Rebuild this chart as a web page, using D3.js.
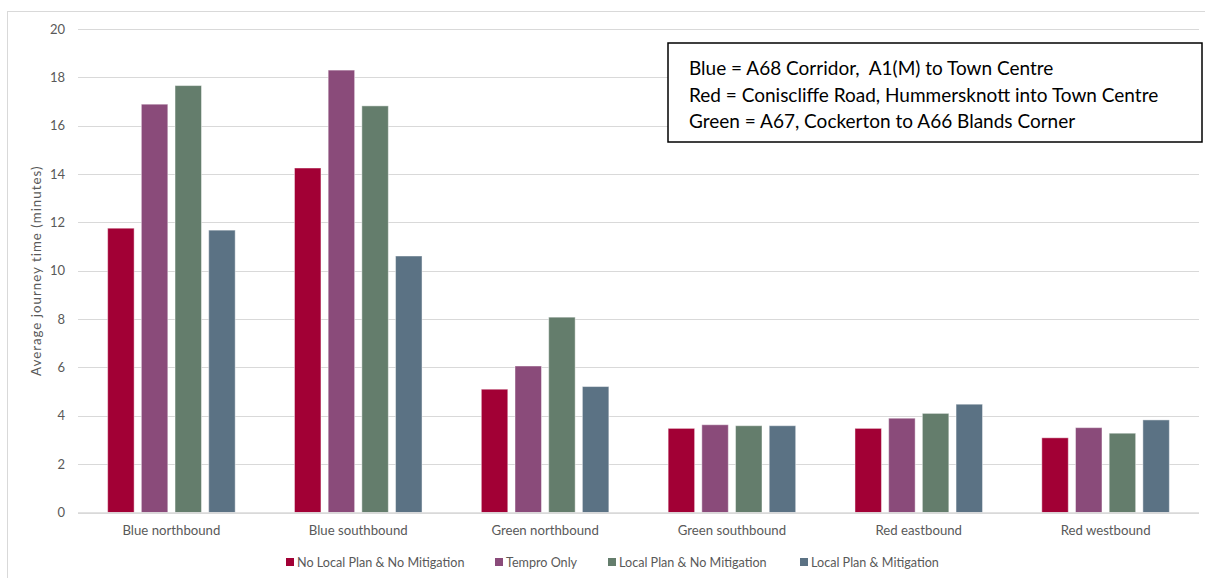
<!DOCTYPE html>
<html>
<head>
<meta charset="utf-8">
<script src="https://cdn.jsdelivr.net/npm/d3@7/dist/d3.min.js"></script>
<style>
  html, body { margin: 0; padding: 0; background: #fff; }
  svg { display: block; }
  text { font-family: Lato, "Open Sans", sans-serif; }
</style>
</head>
<body>
<svg id="chart" width="1205" height="578"></svg>
<script>
// Average journey time per route direction and scenario
const categories = ["Blue northbound", "Blue southbound", "Green northbound", "Green southbound", "Red eastbound", "Red westbound"];
const seriesNames = ["No Local Plan & No Mitigation", "Tempro Only", "Local Plan & No Mitigation", "Local Plan & Mitigation"];
const noPlanNoMitigation = [11.76, 14.25, 5.10, 3.48, 3.48, 3.09];
const temproOnly         = [16.89, 18.30, 6.06, 3.63, 3.90, 3.51];
const planNoMitigation   = [17.66, 16.82, 8.08, 3.59, 4.10, 3.28];
const planMitigation     = [11.68, 10.61, 5.21, 3.59, 4.48, 3.83];
const seriesColors = ["#A20035", "#8A4B7A", "#647D6C", "#5B7284"];
const yTicks = [0, 2, 4, 6, 8, 10, 12, 14, 16, 18, 20];
const noteLines = [
  "Blue = A68 Corridor,  A1(M) to Town Centre",
  "Red = Coniscliffe Road, Hummersknott into Town Centre",
  "Green = A67, Cockerton to A66 Blands Corner"
];

const seriesValues = [noPlanNoMitigation, temproOnly, planNoMitigation, planMitigation];
const rows = categories.map((c, i) => ({
  category: c,
  values: seriesNames.map((s, j) => ({ series: s, index: j, value: seriesValues[j][i] }))
}));

const svg = d3.select("#chart");
const plotLeft = 78, plotRight = 1199, plotTop = 29, plotBottom = 512.5;

// chart area frame
svg.append("rect")
  .attr("x", 7.5).attr("y", 11.5)
  .attr("width", 1220).attr("height", 620)
  .attr("fill", "none").attr("stroke", "#D9D9D9").attr("stroke-width", 1);

const x0 = d3.scaleBand().domain(categories).range([plotLeft, plotRight]);
const x1 = d3.scaleBand().domain(seriesNames)
  .range([0, x0.bandwidth()])
  .paddingInner(0.214).paddingOuter(0.88);
const y = d3.scaleLinear().domain([0, 20]).range([plotBottom, plotTop]);

// gridlines
svg.append("g").selectAll("line").data(yTicks).join("line")
  .attr("x1", plotLeft).attr("x2", plotRight)
  .attr("y1", d => Math.round(y(d)) + 0.5).attr("y2", d => Math.round(y(d)) + 0.5)
  .attr("stroke", "#D9D9D9").attr("stroke-width", 1);

// y axis labels
const yAxis = d3.axisLeft(y).tickValues(yTicks).tickSize(0).tickPadding(0);
const gy = svg.append("g").attr("transform", "translate(65,0)").call(yAxis);
gy.select(".domain").remove();
gy.selectAll("text").attr("fill", "#595959").style("font-size", "13px")
  .style("font-family", "Lato, 'Open Sans', sans-serif");

// bars
const groups = svg.append("g").selectAll("g").data(rows).join("g")
  .attr("transform", d => `translate(${x0(d.category)},0)`);
groups.selectAll("rect").data(d => d.values).join("rect")
  .attr("x", d => x1(d.series))
  .attr("width", x1.bandwidth())
  .attr("y", d => y(d.value))
  .attr("height", d => plotBottom - y(d.value))
  .attr("fill", d => seriesColors[d.index])
  .attr("stroke", "#ffffff").attr("stroke-opacity", 0.45).attr("stroke-width", 1);

// baseline
svg.append("line")
  .attr("x1", plotLeft).attr("x2", plotRight)
  .attr("y1", plotBottom + 0.5).attr("y2", plotBottom + 0.5)
  .attr("stroke", "#D9D9D9").attr("stroke-width", 1.5);

// x axis labels
const xAxis = d3.axisBottom(x0).tickSize(0).tickPadding(0);
const gx = svg.append("g").attr("transform", `translate(0,${plotBottom + 13})`).call(xAxis);
gx.select(".domain").remove();
gx.selectAll("text").attr("fill", "#595959").style("font-size", "13.2px")
  .style("font-family", "Lato, 'Open Sans', sans-serif");

// y axis title
svg.append("text")
  .attr("transform", `translate(41,${(plotTop + plotBottom) / 2}) rotate(-90)`)
  .attr("text-anchor", "middle")
  .attr("fill", "#595959").style("font-size", "13.3px").style("letter-spacing", "1px")
  .text("Average journey time (minutes)");

// legend
const legendX = [286, 495, 608, 800];
const legend = svg.append("g").selectAll("g").data(seriesNames).join("g")
  .attr("transform", (d, i) => `translate(${legendX[i]},563)`);
legend.append("rect").attr("x", 0).attr("y", -5).attr("width", 8).attr("height", 8)
  .attr("fill", (d, i) => seriesColors[i]);
legend.append("text").attr("x", 11).attr("y", 4)
  .attr("fill", "#595959").style("font-size", "12.6px").text(d => d);

// route key box
const box = svg.append("g");
box.append("rect")
  .attr("x", 668).attr("y", 43).attr("width", 534).attr("height", 99)
  .attr("fill", "#fff").attr("stroke", "#000").attr("stroke-width", 1.5);
box.selectAll("text").data(noteLines).join("text")
  .attr("x", 689).attr("y", (d, i) => 75 + i * 26.5)
  .attr("xml:space", "preserve").style("white-space", "pre")
  .attr("fill", "#000").style("font-size", "19px").text(d => d);
</script>
</body>
</html>
